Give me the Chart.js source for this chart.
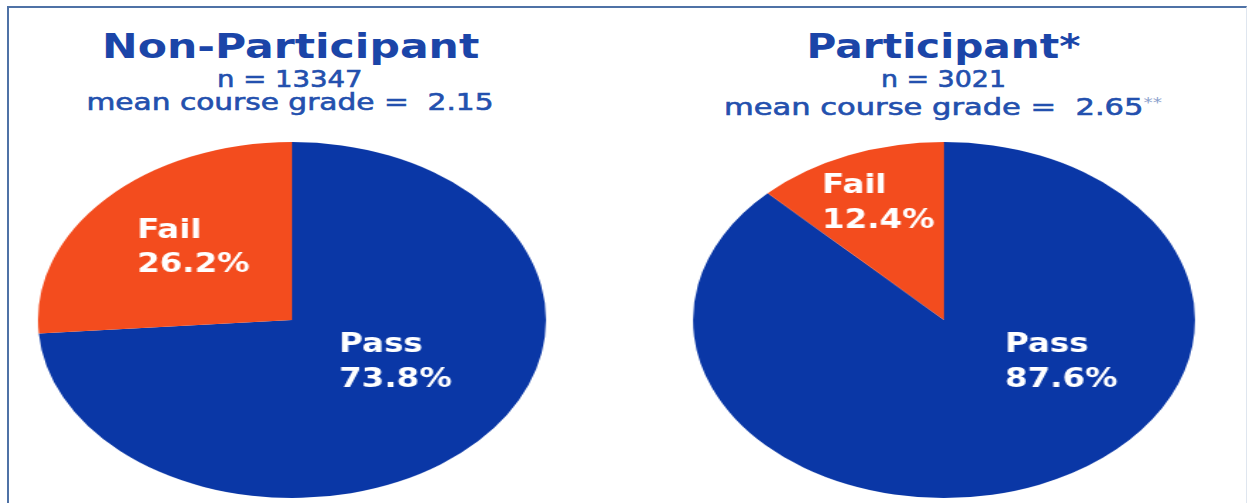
<html>
  <head>
    <title>Pass / Fail</title>
    <script src="https://cdn.jsdelivr.net/npm/chart.js@4.4.0/dist/chart.umd.min.js"></script>
    <style>
      body{
        margin:0;
        width:1249px;
        height:503px;
        background:#fff;
        overflow:hidden;
        position:relative;
        font-family:"DejaVu Sans";
      }
      #frame{
        position:absolute;
        left:7px; top:6px;
        width:1237px; height:520px;
        border-left:2px solid #4f72a6;
        border-top:2px solid #4f72a6;
        border-right:1px solid #dfe6ef;
      }
      .txt{
        position:absolute;
        white-space:pre;
        color:#1b45a8;
        transform-origin:center;
      }
      .title{ font-weight:bold; font-size:34px; line-height:34px; }
      .sub{ font-size:23px; line-height:23px; color:#2350ae; -webkit-text-stroke:0.6px #2350ae; }
      .stars{ font-size:14px; vertical-align:8px; color:#8aa0cc; -webkit-text-stroke:0; }
      .pie{ position:absolute; width:360px; height:360px; transform-origin:center; }
    </style>
  </head>

  <body>
    <div id="frame"></div>
    <div id="texts"></div>
    <div class="pie" id="pie0"><canvas id="c0"></canvas></div>
    <div class="pie" id="pie1"><canvas id="c1"></canvas></div>
  </body>

  <script>
    // data
    var groups = ['Non-Participant', 'Participant*'];
    var counts = [13347, 3021];
    var meanGrades = ['2.15', '2.65'];
    var gradeNotes = ['', '**'];
    var outcomes = ['Pass', 'Fail'];
    var nonParticipant = [73.8, 26.2];
    var participant = [87.6, 12.4];
    var sliceColors = ['#0a37a6', '#f34c1e'];

    // layout
    var pieCx = [292, 944];
    var pieCy = 320;
    var pieRx = [254, 251];
    var pieRy = 178;
    // label anchors (screen px from centre): [dx, baseline1, baseline2] per outcome
    var labelPos = [
      [[47, 32, 67], [-155, -82, -48]],
      [[61, 32, 67], [-122, -127, -92]]
    ];
    var headCx = [290, 943];
    var headWidths = [[377, 146, 407], [274, 125, 438]];

    function addLine(html, cls, cx, baseline, size, target){
      var d = document.createElement('div');
      d.className = 'txt ' + cls;
      d.innerHTML = html;
      document.getElementById('texts').appendChild(d);
      var w = d.offsetWidth;
      d.style.left = (cx - w/2) + 'px';
      d.style.top = (baseline - 0.846*size) + 'px';
      d.style.transform = 'scaleX(' + (target/w).toFixed(3) + ')';
    }

    for (i=0;i<groups.length;i++){
      addLine(groups[i], 'title', headCx[i], 58, 34, headWidths[i][0]);
      addLine('n = ' + counts[i], 'sub', headCx[i], 87, 23, headWidths[i][1]);
      var note = gradeNotes[i] ? "<span class='stars'>" + gradeNotes[i] + "</span>" : '';
      addLine('mean course grade =  ' + meanGrades[i] + note, 'sub', headCx[i], 110, 23, headWidths[i][2]);
    }

    var labelPlugin = {
      id: 'sliceLabels',
      afterDatasetsDraw: function(chart){
        var idx = chart.options.plugins.sliceLabels.idx;
        var sx = pieRx[idx]/pieRy;
        var ctx = chart.ctx;
        var arcs = chart.getDatasetMeta(0).data;
        var vals = chart.data.datasets[0].data;
        ctx.save();
        ctx.fillStyle = '#ffffff';
        ctx.font = 'bold 26px "DejaVu Sans"';
        ctx.textBaseline = 'alphabetic';
        for (j=0;j<arcs.length;j++){
          var p = labelPos[idx][j];
          var lines = [chart.data.labels[j], vals[j].toFixed(1) + '%'];
          for (k=0;k<2;k++){
            ctx.save();
            ctx.translate(arcs[j].x + p[0]/sx, arcs[j].y + p[k+1]);
            ctx.scale(1.25/sx, 1);
            ctx.fillText(lines[k], 0, 0);
            ctx.restore();
          }
        }
        ctx.restore();
      }
    };

    function drawPie(idx, values){
      var box = document.getElementById('pie' + idx);
      box.style.left = (pieCx[idx] - 180) + 'px';
      box.style.top = (pieCy - 180) + 'px';
      box.style.transform = 'scaleX(' + (pieRx[idx]/pieRy).toFixed(4) + ')';
      new Chart(document.getElementById('c' + idx), {
        type: 'pie',
        data: {
          labels: outcomes,
          datasets: [{
            data: values,
            backgroundColor: sliceColors,
            borderWidth: 0
          }]
        },
        options: {
          responsive: true,
          maintainAspectRatio: false,
          animation: false,
          layout: { padding: 2 },
          plugins: {
            legend: { display: false },
            tooltip: { enabled: false },
            sliceLabels: { idx: idx }
          }
        },
        plugins: [labelPlugin]
      });
    }

    drawPie(0, nonParticipant);
    drawPie(1, participant);
  </script>
</html>
